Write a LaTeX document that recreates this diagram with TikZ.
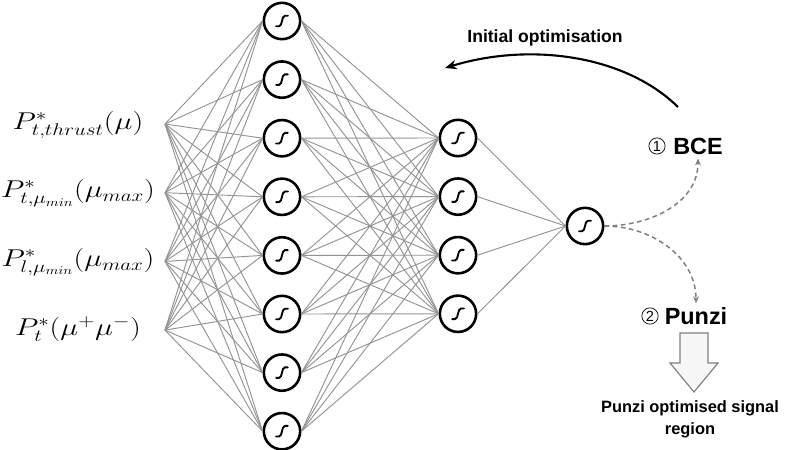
\documentclass[tikz,border=0pt]{standalone}
\usepackage{fontspec}
\newfontfamily\labelfont{Liberation Sans}
\usetikzlibrary{arrows.meta}
\tikzstyle{neuron}=[circle, draw, line width=2.2pt, fill=white, minimum size=31pt, inner sep=0pt,
  path picture={\draw[line width=1.6pt, line cap=round]
    ([shift={(-5pt,-4.5pt)}]path picture bounding box.center) -- ([shift={(-2.5pt,-4.5pt)}]path picture bounding box.center)
    .. controls +(3pt,0) and +(-3pt,0) .. ([shift={(2.5pt,4.5pt)}]path picture bounding box.center)
    -- ([shift={(5pt,4.5pt)}]path picture bounding box.center);}]
\tikzstyle{link}=[draw=gray!85, line width=0.8pt]
\tikzstyle{hint}=[draw=gray, line width=1.3pt, dash pattern=on 4pt off 3pt, -{Stealth[length=6pt,width=5pt]}]
\tikzstyle{feat}=[anchor=base, font=\fontsize{20}{24}\selectfont]
\tikzstyle{word}=[font=\labelfont\bfseries\fontsize{20}{24}\selectfont]
\tikzstyle{num}=[circle, draw, line width=0.6pt, inner sep=1pt, font=\labelfont\fontsize{12.5}{13}\selectfont]
\begin{document}
\begin{tikzpicture}[x=0.03cm, y=-0.03cm]
  \useasboundingbox (0,0) rectangle (800,450);
  % inputs
  \foreach \i/\txt in {1/{P^*_{t,thrust}(\mu)}, 2/{P^*_{t,\mu_{min}}(\mu_{max})}, 3/{P^*_{l,\mu_{min}}(\mu_{max})}, 4/{P^*_t(\mu^+\mu^-)}}{
    \coordinate (x\i) at (165, {124+68.7*(\i-1)});
    \node[feat] (f\i) at (78, {129+68.7*(\i-1)}) {\scalebox{1.25}[1]{$\txt$}};
  }
  % layers
  \foreach \j in {1,...,8}
    \node[neuron] (h\j) at (282, {21+58.6*(\j-1)}) {};
  \foreach \k in {1,...,4}
    \node[neuron] (g\k) at (458, {138+58.6*(\k-1)}) {};
  \node[neuron] (out) at (585,226) {};
  \foreach \i in {1,...,4}
    \foreach \j in {1,...,8}
      \draw[link] (x\i) -- (h\j.west);
  \foreach \j in {1,...,8}
    \foreach \k in {1,...,4}
      \draw[link] (h\j.east) -- (g\k.west);
  \foreach \k in {1,...,4}
    \draw[link] (g\k.east) -- (out.west);
  % losses
  \node[word] (bce) at (698,146) {BCE};
  \node[num] (n1) at (657,146) {1};
  \node[word] (punzi) at (696,316) {Punzi};
  \node[num] (n2) at (650,316) {2};
  \draw[hint] (out.east) to[out=0, in=-90] (bce.south);
  \draw[hint] (out.east) to[out=0, in=90] (punzi.north);
  % feedback
  \coordinate (fb) at (678,107);
  \coordinate (fbend) at (445,68);
  \node[font=\labelfont\bfseries\fontsize{15}{18}\selectfont] (init) at (545,38) {Initial optimisation};
  \draw[line width=1.8pt, -{Stealth[length=10pt,width=8pt]}] (fb) .. controls (625,55) and (530,42) .. (fbend);
  % result
  \draw[gray, fill=gray!6, line width=1pt] (680,333) -- (708,333) -- (708,363) -- (718,363)
    -- (694,392) -- (670,363) -- (680,363) -- cycle;
  \node[align=center, font=\labelfont\bfseries\fontsize{14}{18.5}\selectfont] (region) at (690,419)
    {Punzi optimised signal\\region};
\end{tikzpicture}
\end{document}
